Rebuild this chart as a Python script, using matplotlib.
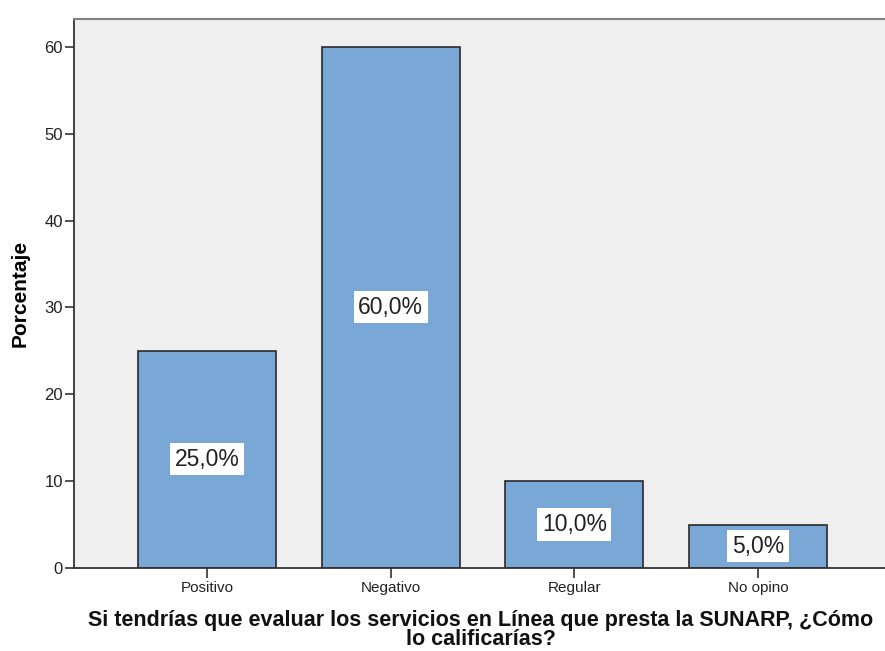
import matplotlib
matplotlib.use("Agg")
import matplotlib.pyplot as plt

categories = ["Positivo", "Negativo", "Regular", "No opino"]
percentages = [25.0, 60.0, 10.0, 5.0]
y_ticks = [0, 10, 20, 30, 40, 50, 60]
title_lines = ["Si tendrías que evaluar los servicios en Línea que presta la SUNARP, ¿Cómo",
               "lo calificarías?"]

plt.rcParams['font.family'] = ['Liberation Sans', 'DejaVu Sans']

W, H = 885, 651
fig = plt.figure(figsize=(W / 100, H / 100), dpi=100)
ax = fig.add_axes([74 / W, 1 - 568 / H, 817 / W, 549 / H])
ax.set_facecolor('#efefef')

x = list(range(len(categories)))
ax.bar(x, percentages, width=0.75, color='#79a8d6',
       edgecolor='#2a2a2a', linewidth=1.2, zorder=2)

for xi, val in zip(x, percentages):
    ax.text(xi, val / 2, f"{val:.1f}%".replace('.', ','),
            ha='center', va='center', fontsize=16.5, color='#222222', zorder=3,
            bbox=dict(boxstyle='square,pad=0.2', facecolor='white',
                      edgecolor='none'))

ax.set_xlim(-0.724, 3.724)
ax.set_ylim(0, 63.2)
ax.set_xticks(x)
ax.set_xticklabels(categories, fontsize=11, color='#222222')
ax.set_yticks(y_ticks)
ax.set_yticklabels([str(t) for t in y_ticks], fontsize=12, color='#222222')
ax.tick_params(axis='y', length=6.5, width=1.2, color='#333333', pad=1.5)
ax.tick_params(axis='x', length=7, width=1.2, color='#333333', pad=2.5)

for side in ['left', 'bottom']:
    ax.spines[side].set_color('#333333')
    ax.spines[side].set_linewidth(1.3)
ax.spines['top'].set_color('#808080')
ax.spines['top'].set_linewidth(1.5)
ax.spines['right'].set_visible(False)

ax.set_ylabel("Porcentaje", fontsize=15, fontweight='bold')
ax.yaxis.set_label_coords(-0.054, 0.5)

# Two-line axis title drawn line by line for tight spacing
for line, baseline in zip(title_lines, [626, 645]):
    fig.text(481 / W, 1 - baseline / H, line, ha='center', va='baseline',
             fontsize=15.5, fontweight='bold', color='#111111')

fig.savefig("out.png", dpi=100)
